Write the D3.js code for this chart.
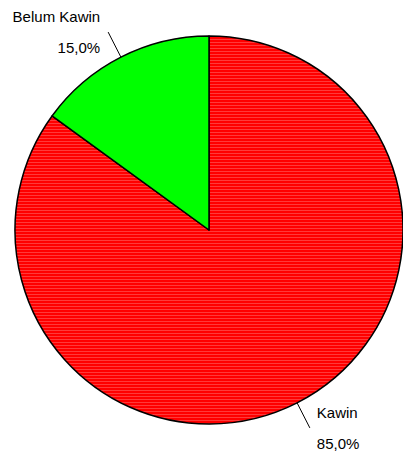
<!DOCTYPE html>
<html>

<head>
    <meta charset="utf-8">
    <script src="https://d3js.org/d3.v7.min.js"></script>
    <style>
        body { margin: 0; background: #fff; }
        text { font-family: "Liberation Sans", Arial, sans-serif; font-size: 15px; fill: #000; }
    </style>
</head>

<body>
    <div id="my_dataviz"></div>
    <script>
    var categories = ["Kawin", "Belum Kawin"];
    var values = [85.0, 15.0];
    var valueLabels = ["85,0%", "15,0%"];
    var colors = ["#ff0000", "#00ff00"];

    var width = 403,
        height = 457,
        cx = 209,
        cy = 230,
        radius = 194;

    var svg = d3.select("#my_dataviz")
        .append("svg")
        .attr("width", width)
        .attr("height", height);

    // faint stripes like the original renderer left behind
    var defs = svg.append("defs");
    var pat = defs.append("pattern")
        .attr("id", "stripes")
        .attr("patternUnits", "userSpaceOnUse")
        .attr("width", 8)
        .attr("height", 3);
    pat.append("rect").attr("width", 8).attr("height", 3).attr("fill", "#ff0000");
    pat.append("rect").attr("y", 1).attr("width", 8).attr("height", 1).attr("fill", "#ff3a3a");

    var data = categories.map(function(c, i) {
        return { name: c, value: values[i], label: valueLabels[i], color: colors[i] };
    });

    var pie = d3.pie()
        .sort(null)
        .value(function(d) { return d.value; });

    var arc = d3.arc()
        .innerRadius(0)
        .outerRadius(radius);

    var outerArc = d3.arc()
        .innerRadius(radius * 1.145)
        .outerRadius(radius * 1.145);

    var g = svg.append("g")
        .attr("transform", "translate(" + cx + "," + cy + ")");

    var arcs = pie(data);

    g.selectAll("path.slice")
        .data(arcs)
        .enter()
        .append("path")
        .attr("class", "slice")
        .attr("d", arc)
        .attr("fill", function(d, i) { return i == 0 ? "url(#stripes)" : d.data.color; })
        .attr("stroke", "#000")
        .attr("stroke-width", 1.5)
        .attr("stroke-linejoin", "round");

    // leader lines
    g.selectAll("line.leader")
        .data(arcs)
        .enter()
        .append("line")
        .attr("class", "leader")
        .attr("x1", function(d) { return arc.centroid(d)[0] * 2; })
        .attr("y1", function(d) { return arc.centroid(d)[1] * 2; })
        .attr("x2", function(d) { return outerArc.centroid(d)[0]; })
        .attr("y2", function(d) { return outerArc.centroid(d)[1]; })
        .attr("stroke", "#000")
        .attr("stroke-width", 1);

    // labels: right side text starts after the line end, left side text ends before it
    function isLeft(d) { return (d.startAngle + d.endAngle) / 2 > Math.PI; }

    var labels = g.selectAll("g.label")
        .data(arcs)
        .enter()
        .append("g")
        .attr("class", "label")
        .attr("transform", function(d) {
            var p = outerArc.centroid(d);
            return "translate(" + (p[0] + (isLeft(d) ? -8 : 7)) + "," + p[1] + ")";
        });

    labels.append("text")
        .attr("text-anchor", function(d) { return isLeft(d) ? "end" : "start"; })
        .attr("y", -10)
        .text(function(d) { return d.data.name; });

    labels.append("text")
        .attr("text-anchor", function(d) { return isLeft(d) ? "end" : "start"; })
        .attr("y", 21)
        .text(function(d) { return d.data.label; });
    </script>
</body>

</html>
